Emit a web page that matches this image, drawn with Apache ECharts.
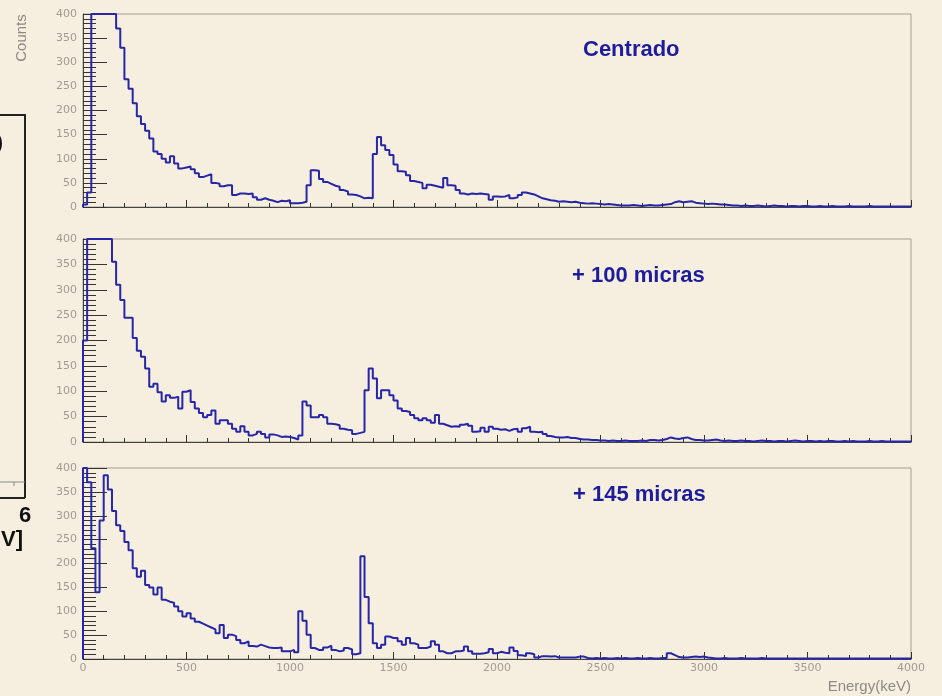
<!DOCTYPE html>
<html>
<head>
<meta charset="utf-8">
<script src="https://cdn.jsdelivr.net/npm/echarts@6/dist/echarts.min.js"></script>
<style>
html,body{margin:0;padding:0;background:#f6efdf;}
#c{width:942px;height:696px;}
</style>
</head>
<body>
<div id="c"></div>
<script>
// Histogram: 200 bins of 20 keV from 0 to 4000 keV
var binWidth = 20;
var xTicks = [0, 500, 1000, 1500, 2000, 2500, 3000, 3500, 4000];
var yTicks = [0, 50, 100, 150, 200, 250, 300, 350, 400];
var panelTitles = ["Centrado", "+ 100 micras", "+ 145 micras"];
var xAxisTitle = "Energy(keV)";
var yAxisTitle = "Counts";

var centrado = [
5,30,400,400,400,400,400,400,370,330,
265,245,215,188,172,158,142,115,110,100,
92,105,90,80,82,84,78,70,62,65,
68,50,48,43,45,45,25,28,28,27,
28,20,15,18,15,13,10,13,12,14,
8,8,9,11,45,76,75,58,52,48,
44,42,35,32,26,25,22,18,19,18,
110,145,128,118,108,88,74,73,66,54,
52,50,39,46,44,42,40,60,45,44,
35,28,26,28,27,28,27,26,15,22,
21,22,25,18,20,25,30,28,26,22,
18,16,14,13,11,12,11,10,11,9,
8,7,8,7,6,5,6,5,4,3,
3,3,4,3,2,3,4,3,3,4,
5,6,10,12,10,11,12,9,8,7,
6,7,6,5,5,4,3,3,2,3,
2,2,3,2,1,2,3,2,2,1,
2,2,1,2,2,1,1,2,1,1,
2,1,1,1,2,1,1,1,1,2,
1,1,1,1,1,1,1,1,1,1];

var micras100 = [
200,400,400,400,400,400,400,355,310,280,
245,245,205,180,168,145,109,115,98,80,
92,87,89,66,99,102,79,66,57,49,
53,62,36,43,43,36,26,20,31,20,
13,16,20,16,9,15,13,10,11,10,
8,5,13,80,72,49,49,53,49,36,
35,33,26,24,23,16,18,20,102,145,
125,86,102,102,92,82,66,61,59,53,
47,43,47,43,38,53,36,33,30,31,
30,34,36,32,20,21,28,20,30,26,
24,25,22,25,26,20,27,30,20,19,
20,16,12,10,9,9,10,8,8,6,
5,5,4,4,3,3,2,3,2,2,
3,2,2,2,3,2,4,4,3,4,
6,9,7,6,8,9,6,4,4,3,
3,4,5,3,2,3,2,2,3,2,
2,1,2,3,2,2,1,2,2,1,
2,3,2,1,2,2,1,2,1,2,
2,1,1,2,1,2,1,1,1,2,
1,1,2,1,1,1,1,1,1,1];

var micras145 = [
400,370,232,140,290,385,355,310,280,268,
245,228,190,172,185,155,150,135,150,124,
120,118,110,100,89,96,85,78,74,70,
66,62,54,71,44,51,48,40,33,37,
27,26,30,27,24,23,23,24,16,16,
19,14,100,80,51,23,19,19,24,28,
19,16,18,23,20,10,12,215,130,75,
33,23,30,47,44,44,37,30,44,33,
30,23,23,26,37,30,16,12,12,16,
16,18,26,16,11,11,12,14,21,12,
15,13,12,24,17,8,6,12,10,3,
6,6,5,6,3,3,3,3,3,5,
5,2,1,2,1,2,1,1,2,1,
2,1,1,2,1,1,2,1,1,2,
2,12,8,4,3,3,4,5,4,5,
3,2,1,1,2,1,1,1,2,1,
1,1,1,2,1,1,1,1,1,1,
1,1,1,1,1,1,1,1,1,1,
1,1,1,1,1,1,1,1,1,1,
1,1,1,1,1,1,1,1,1,1];

var seriesValues = [centrado, micras100, micras145];

function histData(vals) {
  var d = [[0, 0]];
  for (var i = 0; i < vals.length; i++) d.push([i * binWidth, vals[i]]);
  d.push([vals.length * binWidth, vals[vals.length - 1]]);
  d.push([vals.length * binWidth, 0]);
  return d;
}

var grids = [
  {left: 83, top: 14, width: 828, height: 193},
  {left: 83, top: 239, width: 828, height: 203},
  {left: 83, top: 468, width: 828, height: 191}
];
var titlePos = [[583, 50], [572, 276], [573, 495]];

var gridOpts = [], xAxes = [], yAxes = [], series = [], graphics = [];
var fam = 'Liberation Sans, Arial, sans-serif';
var tickFont = {color: '#a09b92', fontSize: 11, fontFamily: 'DejaVu Sans, sans-serif'};

for (var p = 0; p < 3; p++) {
  gridOpts.push(Object.assign({show: true, borderColor: '#a59e92', borderWidth: 1,
    backgroundColor: 'transparent', containLabel: false, outerBoundsMode: 'none'}, grids[p]));
  xAxes.push({
    type: 'value', gridIndex: p, min: xTicks[0], max: xTicks[xTicks.length - 1], interval: 500,
    axisLine: {show: true, onZero: false, lineStyle: {color: '#444', width: 1}},
    axisTick: {show: true, inside: true, length: 7, lineStyle: {color: '#333'}},
    minorTick: {show: true, splitNumber: 5, length: 4, lineStyle: {color: '#333'}},
    splitLine: {show: false},
    axisLabel: p === 2 ? Object.assign({show: true, margin: 4, formatter: function (v) { return String(v); }}, tickFont) : {show: false}
  });
  yAxes.push({
    type: 'value', gridIndex: p, min: yTicks[0], max: yTicks[yTicks.length - 1], interval: 50,
    axisLine: {show: true, lineStyle: {color: '#444', width: 1}},
    axisTick: {show: true, inside: true, length: 24, lineStyle: {color: '#333'}},
    minorTick: {show: true, splitNumber: 5, length: 13, lineStyle: {color: '#333'}},
    splitLine: {show: false},
    axisLabel: Object.assign({show: true, margin: 6}, tickFont)
  });
  series.push({
    type: 'line', xAxisIndex: p, yAxisIndex: p, step: 'end', symbol: 'none',
    data: histData(seriesValues[p]),
    lineStyle: {color: '#2626a6', width: 2},
    clip: true, silent: true, animation: false
  });
  graphics.push({
    type: 'text', x: titlePos[p][0], y: titlePos[p][1],
    style: {text: panelTitles[p], fill: '#1c1c9c', font: 'bold 22px ' + fam,
      textAlign: 'left', textVerticalAlign: 'middle', verticalAlign: 'middle'}
  });
}

graphics.push(
  {type: 'text', x: 22, y: 38, rotation: Math.PI / 2,
    style: {text: yAxisTitle, fill: '#8d8a84', font: '15px ' + fam, textAlign: 'center', align: 'center', textVerticalAlign: 'middle', verticalAlign: 'middle'}},
  {type: 'text', x: 911, y: 687,
    style: {text: xAxisTitle, fill: '#8d8a84', font: '15px ' + fam, textAlign: 'right', align: 'right', textVerticalAlign: 'middle', verticalAlign: 'middle'}},
  {type: 'line', shape: {x1: 0, y1: 115, x2: 25, y2: 115}, style: {stroke: '#222', lineWidth: 2}},
  {type: 'line', shape: {x1: 25, y1: 114, x2: 25, y2: 498}, style: {stroke: '#222', lineWidth: 2}},
  {type: 'line', shape: {x1: 0, y1: 498, x2: 25, y2: 498}, style: {stroke: '#222', lineWidth: 2}},
  {type: 'line', shape: {x1: 0, y1: 482, x2: 25, y2: 482}, style: {stroke: '#888', lineWidth: 1}},
  {type: 'line', shape: {x1: 14, y1: 482, x2: 14, y2: 486}, style: {stroke: '#888', lineWidth: 1}},
  {type: 'text', x: -4, y: 143, style: {text: ')', fill: '#111', font: '22px ' + fam, textVerticalAlign: 'middle', verticalAlign: 'middle'}},
  {type: 'text', x: 19, y: 516, style: {text: '6', fill: '#111', font: 'bold 22px ' + fam, textVerticalAlign: 'middle', verticalAlign: 'middle'}},
  {type: 'text', x: 1, y: 540, style: {text: 'V]', fill: '#111', font: 'bold 22px ' + fam, textVerticalAlign: 'middle', verticalAlign: 'middle'}}
);

var chart = echarts.init(document.getElementById('c'), null, {renderer: 'canvas'});
chart.setOption({
  backgroundColor: '#f6efdf',
  animation: false,
  grid: gridOpts,
  xAxis: xAxes,
  yAxis: yAxes,
  series: series,
  graphic: graphics
});
</script>
</body>
</html>
